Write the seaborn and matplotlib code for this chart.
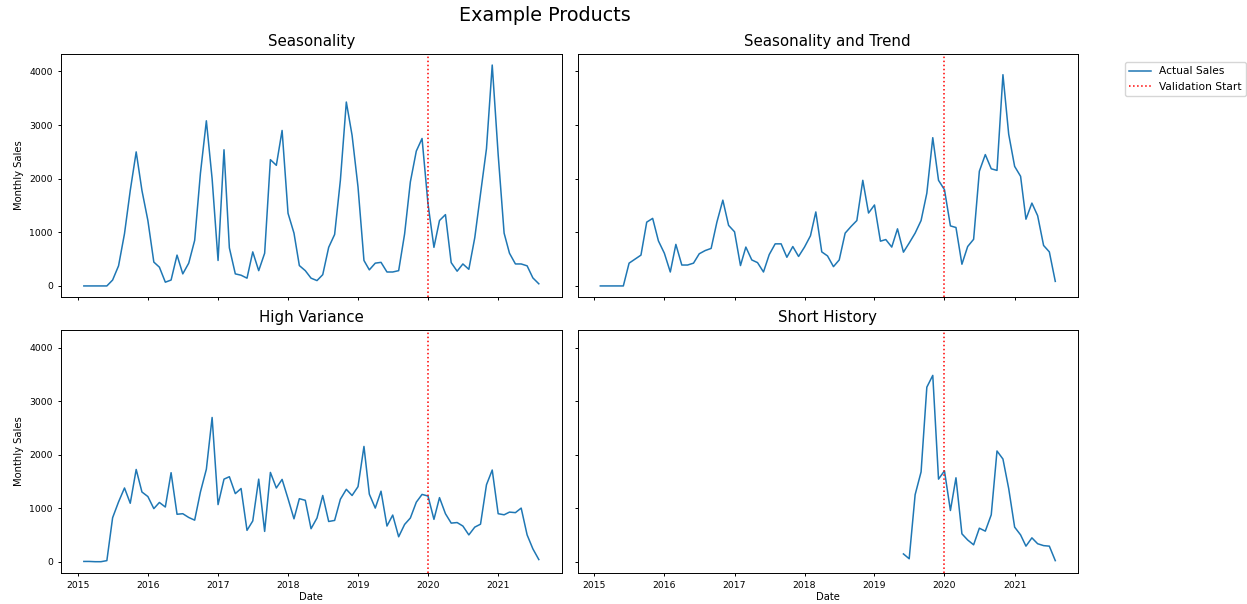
import numpy as np
import pandas as pd
import seaborn as sns
import matplotlib.pyplot as plt

# monthly sales, Feb 2015 .. Aug 2021
dates = pd.date_range('2015-02-01', periods=79, freq='MS')

seasonality = [0, 0, 0, 0, 0, 110, 375, 975, 1780, 2500, 1780,
               1220, 445, 350, 70, 110, 575, 225, 425, 850, 2100, 3080, 2000,
               475, 2540, 710, 225, 200, 145, 635, 285, 610, 2355, 2250, 2900,
               1355, 985, 380, 285, 145, 100, 210, 720, 960, 1970, 3430, 2810,
               1845, 475, 300, 425, 440, 260, 260, 285, 970, 1940, 2515, 2750,
               1530, 720, 1220, 1330, 435, 275, 410, 310, 900, 1720, 2560, 4120,
               2450, 985, 610, 410, 410, 375, 150, 40]

seasonality_trend = [0, 0, 0, 0, 0, 425, 500, 575, 1190, 1260, 840,
                     610, 260, 775, 390, 390, 425, 600, 660, 700, 1190, 1600, 1130,
                     1010, 380, 725, 485, 435, 260, 585, 785, 785, 535, 735, 550, 725,
                     935, 1380, 635, 560, 360, 485, 985, 1110, 1220, 1970, 1360, 1510,
                     835, 865, 725, 1065, 630, 800, 985, 1220, 1730, 2765, 1970,
                     1795, 1120, 1090, 405, 735, 870, 2140, 2450, 2185, 2155, 3940, 2830,
                     2230, 2045, 1245, 1545, 1310, 755, 635, 85]

high_variance = [10, 10, 5, 5, 25, 825, 1120, 1380, 1095, 1725, 1305,
                 1220, 995, 1110, 1025, 1665, 890, 900, 830, 780, 1305, 1730, 2695,
                 1070, 1545, 1590, 1275, 1370, 590, 765, 1545, 570, 1670, 1380, 1540,
                 1180, 805, 1180, 1150, 620, 820, 1240, 755, 775, 1170, 1355, 1240,
                 1405, 2155, 1265, 1005, 1320, 670, 875, 470, 700, 820, 1115, 1260,
                 1230, 795, 1200, 900, 725, 735, 670, 505, 650, 705, 1440, 1715,
                 900, 880, 930, 920, 1005, 505, 245, 45]

# short history starts Jun 2019
short_history = [150, 60, 1255, 1680, 3260, 3480, 1545,
                 1700, 960, 1570, 525, 410, 320, 630, 575, 880, 2070, 1920, 1370,
                 650, 505, 295, 450, 340, 305, 295, 25]

titles = ['Seasonality', 'Seasonality and Trend', 'High Variance', 'Short History']
series = [seasonality, seasonality_trend, high_variance, short_history]
validation_start = pd.Timestamp('2020-01-01')

plt.rcParams['axes.linewidth'] = 0.7
plt.rcParams['xtick.major.width'] = 0.7
plt.rcParams['ytick.major.width'] = 0.7
plt.rcParams['xtick.major.size'] = 2.5
plt.rcParams['ytick.major.size'] = 2.5

fig, axes = plt.subplots(2, 2, sharex=True, sharey=True, figsize=(12.47, 6.04), dpi=100)
fig.subplots_adjust(left=0.049, right=0.8645, top=0.9106, bottom=0.0513,
                    wspace=0.032, hspace=0.136)

for ax, title, values in zip(axes.flat, titles, series):
    df = pd.DataFrame({'Date': dates[-len(values):], 'Sales': values})
    sns.lineplot(data=df, x='Date', y='Sales', ax=ax, color='#1f77b4',
                 linewidth=1.1, label='Actual Sales', legend=False)
    ax.axvline(validation_start, color='red', linestyle=':', linewidth=1.1,
               label='Validation Start')
    ax.set_title(title, fontsize=10.8)
    ax.set_xlabel('')
    ax.set_ylabel('')
    ax.tick_params(labelsize=6.7)

for ax in axes[:, 0]:
    ax.set_ylabel('Monthly Sales', fontsize=7.2)
for ax in axes[1, :]:
    ax.set_xlabel('Date', fontsize=7.2, labelpad=1.5)

handles, labels = axes[0, 0].get_legend_handles_labels()
fig.legend(handles, labels, loc='upper left', bbox_to_anchor=(0.898, 0.906),
           fontsize=7.7)
fig.suptitle('Example Products', fontsize=13.8, x=0.437, y=0.99, va='top')

fig.savefig('out.png', dpi=100)
